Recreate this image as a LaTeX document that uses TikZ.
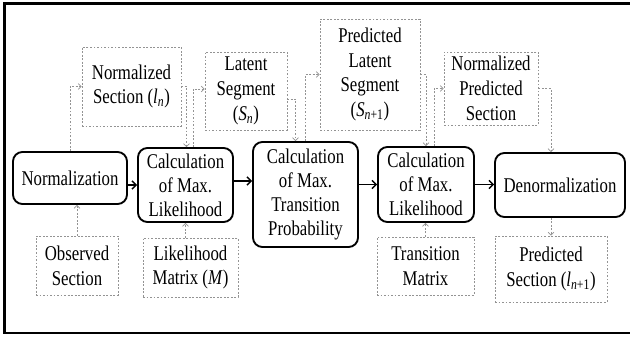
\documentclass[tikz,border=0pt]{standalone}
\usepackage{fontspec}
\setmainfont{Liberation Serif}[FakeStretch=0.8]
\usetikzlibrary{arrows.meta,calc,positioning}
\newcommand{\vsub}[2]{\textit{#1}\textsubscript{#2}}
\tikzset{
    boxsize/.style 2 args={minimum width=#1*0.03cm, minimum height=#2*0.03cm},
    mainbox/.style={draw, line width=1.6pt, rounded corners=8pt, align=center, inner sep=0pt,
        font=\fontsize{17.9}{20.6}\selectfont},
    dashbox/.style={draw=gray!85, dash pattern=on 1.6pt off 1.4pt, line width=0.6pt, align=center,
        inner sep=0pt, font=\fontsize{17.9}{21.2}\selectfont},
    flow/.style={draw=gray!85, dash pattern=on 1.6pt off 1.4pt, line width=0.6pt,
        -{Straight Barb[length=2.5pt,width=5pt]}},
    pass/.style={line width=1.2pt, -{Straight Barb[length=3.5pt,width=7pt]}}
}

\begin{document}
\begin{tikzpicture}[x=0.03cm, y=-0.03cm]
    \useasboundingbox (0,0) rectangle (630,338);
    \draw[line width=2.4pt] (630,3.5) -- (4.5,3.5) -- (4.5,333) -- (630,333);
    % main row
    \node[mainbox, boxsize={114}{52}] (norm) at (70,178) {Normalization};
    \node[mainbox, boxsize={95}{74}] (calcA) at (185.5,185) {Calculation\\of Max.\\Likelihood};
    \node[mainbox, boxsize={105}{105}] (calcT) at (305.5,194.5) {Calculation\\of Max.\\Transition\\Probability};
    \node[mainbox, boxsize={96}{75}] (calcB) at (426,184.5) {Calculation\\of Max.\\Likelihood};
    \node[mainbox, boxsize={130}{64}] (denorm) at (560,185) {Denormalization};
    % upper row
    \node[dashbox, boxsize={99}{79}] (nsec) at (131.5,86.5) {Normalized\\Section (\vsub{l}{\textit{n}})};
    \node[dashbox, boxsize={82}{78}] (lat) at (246,91) {Latent\\Segment\\(\vsub{S}{\textit{n}})};
    \node[dashbox, boxsize={100}{111}] (plat) at (370,74.5) {Predicted\\Latent\\Segment\\(\vsub{S}{\textit{n}+1})};
    \node[dashbox, boxsize={94}{73}] (npred) at (491,88.5) {Normalized\\Predicted\\Section};
    % lower row
    \node[dashbox, boxsize={82}{59}] (obs) at (77,265.5) {Observed\\Section};
    \node[dashbox, boxsize={95}{59}] (lik) at (190.5,267.5) {Likelihood\\Matrix (\textit{M})};
    \node[dashbox, boxsize={97}{58}] (trans) at (425.5,266) {Transition\\Matrix};
    \node[dashbox, boxsize={112}{66}] (psec) at (551,269) {Predicted\\Section (\vsub{l}{\textit{n}+1})};
    % solid arrows
    \draw[pass] (norm.east |- calcA.west) -- (calcA.west);
    \draw[pass] ($(calcA.east)+(0,-4)$) -- ($(calcA.east -| calcT.west)+(0,-4)$);
    \draw[pass] (calcT.east |- calcB.west) -- (calcB.west);
    \draw[pass] (calcB.east) -- (calcB.east -| denorm.west);
    % dashed links
    \draw[flow] (norm.north) |- (nsec.west);
    \draw[flow] (nsec.east) -| ($(calcA.north)+(1,0)$);
    \draw[flow] ($(calcA.north)+(7.5,0)$) |- ($(lat.west)+(0,-2)$);
    \draw[flow] ($(lat.east)+(0,8)$) -| ($(calcT.north)+(-10,0)$);
    \draw[flow] (calcT.north) |- (plat.west);
    \draw[flow] (plat.east) -| (calcB.north);
    \draw[flow] ($(calcB.north)+(8,0)$) |- (npred.west);
    \draw[flow] (npred.east) -| (denorm.north -| psec.north);
    \draw[flow] (obs.north) -- (obs.north |- norm.south);
    \draw[flow] (lik.north -| calcA.south) -- (calcA.south);
    \draw[flow] (trans.north) -- (trans.north |- calcB.south);
    \draw[flow] (denorm.south -| psec.north) -- (psec.north);
\end{tikzpicture}
\end{document}
